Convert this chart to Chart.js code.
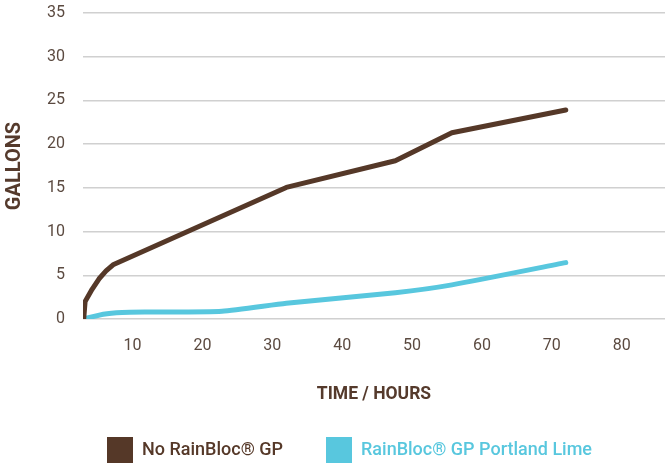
<!DOCTYPE html>
<html>
<head>
<meta charset="utf-8">
<script src="https://cdn.jsdelivr.net/npm/chart.js@4.4.1/dist/chart.umd.min.js"></script>
<style>
  html, body { margin: 0; padding: 0; background: #fff; }
  #wrap { width: 665px; height: 463px; }
</style>
</head>
<body>
<div id="wrap"><canvas id="chart" width="665" height="463"></canvas></div>
<script>
const seriesNames = ['No RainBloc® GP', 'RainBloc® GP Portland Lime'];
const seriesColors = ['#553828', '#58c7de'];

// hours, gallons
const noRainBlocHours = [3, 3.2, 4.2, 5.2, 6.2, 7.2, 32, 47.6, 55.7, 72];
const noRainBlocGallons = [0, 2.0, 3.4, 4.6, 5.5, 6.2, 15.05, 18.1, 21.3, 23.9];
const limeHours = [3, 5.8, 8.5, 12.5, 22.8, 32, 47.6, 55.7, 72];
const limeGallons = [0, 0.55, 0.75, 0.8, 0.9, 1.8, 3.0, 3.9, 6.45];

const xTicks = [10, 20, 30, 40, 50, 60, 70, 80];
const yTicks = [0, 5, 10, 15, 20, 25, 30, 35];

const tickColor = '#5b4a40';
const titleColor = '#553a2c';

function toPoints(xs, ys) {
  return xs.map((x, i) => ({ x: x, y: ys[i] }));
}

// legend in the picture sits a bit right of centre
const legendShift = {
  id: 'legendShift',
  afterLayout(chart) {
    chart.legend.left += 34;
  }
};

const ctx = document.getElementById('chart').getContext('2d');

new Chart(ctx, {
  type: 'line',
  data: {
    datasets: [
      {
        label: seriesNames[0],
        data: toPoints(noRainBlocHours, noRainBlocGallons),
        borderColor: seriesColors[0],
        backgroundColor: seriesColors[0],
        borderWidth: 5,
        pointRadius: 0,
        tension: 0,
        borderCapStyle: 'round',
        borderJoinStyle: 'round'
      },
      {
        label: seriesNames[1],
        data: toPoints(limeHours, limeGallons),
        borderColor: seriesColors[1],
        backgroundColor: seriesColors[1],
        borderWidth: 5,
        pointRadius: 0,
        tension: 0.2,
        borderCapStyle: 'round',
        borderJoinStyle: 'round'
      }
    ]
  },
  options: {
    responsive: false,
    animation: false,
    layout: { padding: 0 },
    plugins: {
      tooltip: { enabled: false },
      legend: {
        position: 'bottom',
        maxHeight: 69,
        labels: {
          boxWidth: 26,
          boxHeight: 26,
          padding: 43,
          font: { family: 'Roboto', size: 18, weight: '500' },
          generateLabels(chart) {
            return chart.data.datasets.map((ds, i) => ({
              text: ds.label,
              fillStyle: ds.borderColor,
              strokeStyle: ds.borderColor,
              lineWidth: 0,
              fontColor: ds.borderColor,
              datasetIndex: i
            }));
          }
        }
      }
    },
    scales: {
      x: {
        type: 'linear',
        min: 2.9,
        max: 86.2,
        afterBuildTicks(scale) {
          scale.ticks = xTicks.map(v => ({ value: v }));
        },
        afterFit(scale) { scale.height = 75; },
        grid: { display: false, drawTicks: false },
        border: { display: false },
        ticks: {
          padding: 17,
          color: tickColor,
          font: { family: 'Roboto', size: 16 }
        },
        title: {
          display: true,
          text: 'TIME / HOURS',
          color: titleColor,
          font: { family: 'Roboto', size: 17.5, weight: 'bold' },
          padding: { top: 10, bottom: -11 }
        }
      },
      y: {
        min: 0,
        max: 35,
        afterBuildTicks(scale) {
          scale.ticks = yTicks.map(v => ({ value: v }));
        },
        afterFit(scale) {
          scale.width = 83;
          scale.paddingTop = 13;
          scale.paddingBottom = 0;
        },
        grid: { color: '#d0d0d0', lineWidth: 1.5, drawTicks: false },
        border: { display: false },
        ticks: {
          padding: 18,
          color: tickColor,
          font: { family: 'Roboto', size: 16 }
        },
        title: {
          display: true,
          text: 'GALLONS',
          color: titleColor,
          font: { family: 'Roboto', size: 20, weight: 'bold' },
          padding: { top: 3, bottom: 3 }
        }
      }
    }
  },
  plugins: [legendShift]
});
</script>
</body>
</html>
